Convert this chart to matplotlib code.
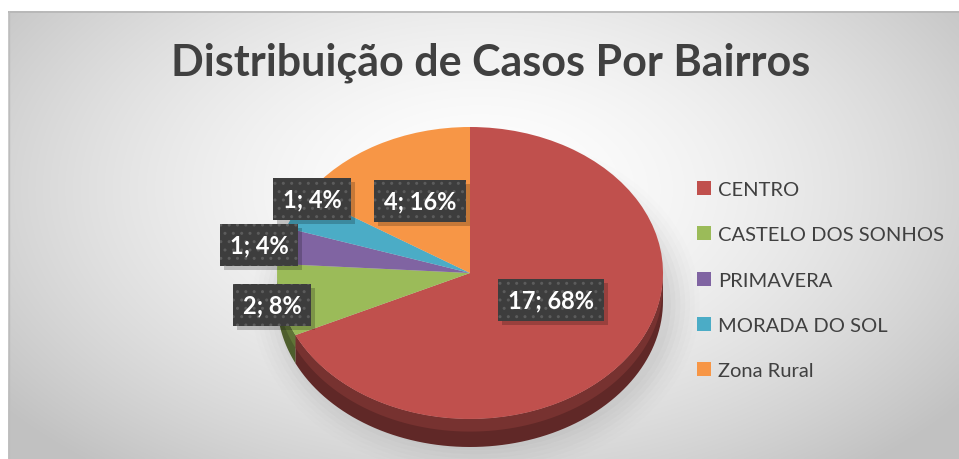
import numpy as np
import matplotlib
matplotlib.use("Agg")
import matplotlib.pyplot as plt
from matplotlib.patches import Patch, Polygon, Ellipse, Rectangle
from matplotlib.colors import to_rgb

# ---------------- data ----------------
title = "Distribuição de Casos Por Bairros"
categories = ["CENTRO", "CASTELO DOS SONHOS", "PRIMAVERA", "MORADA DO SOL", "Zona Rural"]
values = [17, 2, 1, 1, 4]
colors = ["#C0504D", "#9BBB59", "#8064A2", "#4BACC6", "#F79646"]

W, H = 959, 460
fig = plt.figure(figsize=(W / 100, H / 100), dpi=100)
fig.patch.set_facecolor("white")

def fx(px):
    return px / W

def fy(py):
    return 1 - py / H

# ---------------- background (radial gradient) ----------------
bg = fig.add_axes([fx(8), 0, fx(W - 8), 1 - 12 / H])
bg.set_axis_off()
gx = np.linspace(8, W, 480)
gy = np.linspace(12, H, 230)
GX, GY = np.meshgrid(gx, gy)
r = np.sqrt(((GX - 480) / 600) ** 2 + ((GY - 190) / 360) ** 2)
r = np.clip(r, 0, 1)
val = 1.0 - (1.0 - 0.76) * r ** 1.6
img = np.dstack([val, val, val])
bg.imshow(img, extent=(8, W, H, 12), aspect="auto", interpolation="bilinear")
bg.set_xlim(8, W)
bg.set_ylim(H, 12)
bg.plot([8, W], [12.5, 12.5], color="#b5b5b5", lw=1.2)
bg.plot([8.5, 8.5], [12, H], color="#bdbdbd", lw=1.0)

# ---------------- pie (3D look) ----------------
cx, cy = 470, 274      # pixel centre of the ellipse
rx, ry = 193, 146      # pixel radii
xl, yl = 1.5, 1.3
aw = 2 * xl * rx
ah = 2 * yl * ry
pa = fig.add_axes([fx(cx - aw / 2), (H - cy - ah / 2) / H, aw / W, ah / H])
pa.set_axis_off()

wedges, _ = pa.pie(values, colors=colors, startangle=90, counterclock=False,
                   radius=1, center=(0, 0), wedgeprops=dict(linewidth=0))
for w in wedges:
    w.set_zorder(5)
pa.set_aspect("auto")
pa.set_xlim(-xl, xl)
pa.set_ylim(-yl, yl)

depth = 28 / ry

# soft shadow
for k, a in enumerate(np.linspace(0.05, 0.012, 7)):
    e = Ellipse((0.03, -depth - 0.02), 2.02 + 0.05 * k, 2.0 + 0.06 * k,
                facecolor="#7a7a7a", edgecolor="none", alpha=a, zorder=1)
    pa.add_patch(e)

def darker(c, f):
    rgb = np.array(to_rgb(c))
    return tuple(rgb * f)

for w, c in zip(wedges, colors):
    a1, a2 = sorted([w.theta1, w.theta2])
    for lo, hi in [(180, 360), (-180, 0), (540, 720)]:
        s, e = max(a1, lo), min(a2, hi)
        if e > s:
            t = np.radians(np.linspace(s, e, 80))
            up = np.column_stack([np.cos(t), np.sin(t)])
            dn = np.column_stack([np.cos(t), np.sin(t) - depth])[::-1]
            pa.add_patch(Polygon(np.vstack([up, dn]), closed=True,
                                 facecolor=darker(c, 0.5), edgecolor="none", zorder=3))
            dn2 = np.column_stack([np.cos(t), np.sin(t) - depth * 0.45])[::-1]
            pa.add_patch(Polygon(np.vstack([up, dn2]), closed=True,
                                 facecolor=darker(c, 0.62), edgecolor="none", zorder=4))

# ---------------- title ----------------
fig.text(fx(491), fy(63), title, ha="center", va="center", fontsize=31,
         fontweight="bold", family="Lato", color="#404040")

# ---------------- data labels ----------------
total = sum(values)
label_pos = [(551, 301), (272, 306), (259, 246), (312, 200), (420, 202)]
label_texts = []
for v, (px, py) in zip(values, label_pos):
    s = f"{v}; {round(100 * v / total)}%"
    t = fig.text(fx(px), fy(py), s, ha="center", va="center", fontsize=17,
                 fontweight="bold", family="Lato", color="white", zorder=10,
                 bbox=dict(boxstyle="square,pad=0.42", fc="#3d3d3d", ec="#5c5c5c",
                           lw=0, hatch=".."))
    label_texts.append(t)

# box shadows (drawn as plain rectangles behind each label box)
fig.canvas.draw()
for t in label_texts:
    bb = t.get_bbox_patch().get_window_extent()
    fig.patches.append(Rectangle((bb.x0 + 4, bb.y0 - 4), bb.width, bb.height,
                                 transform=None, facecolor="black", alpha=0.2,
                                 edgecolor="none", zorder=9, figure=fig))

# ---------------- legend ----------------
handles = [Patch(facecolor=c, edgecolor="none") for c in colors]
leg = fig.legend(handles, categories, loc="upper left",
                 bbox_to_anchor=(fx(697), fy(182)), frameon=False,
                 prop=dict(family="Lato", size=14.5), labelcolor="#404040",
                 handlelength=0.7, handleheight=0.7, handletextpad=0.35,
                 labelspacing=1.4, borderpad=0, borderaxespad=0)

fig.savefig("out.png", dpi=100)
